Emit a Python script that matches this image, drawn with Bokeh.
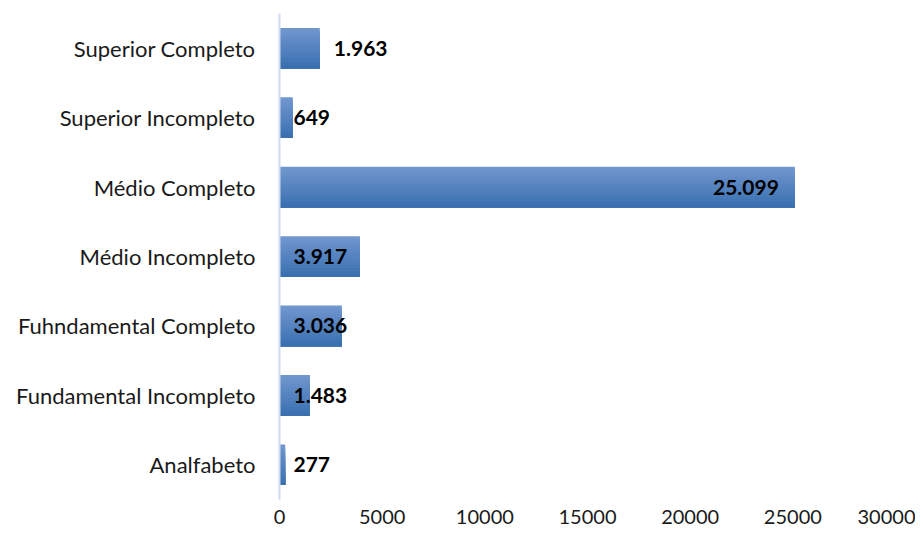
from bokeh.plotting import figure
from bokeh.models import Range1d, FactorRange, ColumnDataSource, FixedTicker
from bokeh.transform import dodge
from bokeh.core.properties import value
from bokeh.embed import file_html
from bokeh.resources import INLINE

categories = ["Analfabeto", "Fundamental Incompleto", "Fuhndamental Completo",
              "Médio Incompleto", "Médio Completo", "Superior Incompleto",
              "Superior Completo"]
counts = [277, 1483, 3036, 3917, 25099, 649, 1963]
value_labels = ["277", "1.483", "3.036", "3.917", "25.099", "649", "1.963"]
x_ticks = [0, 5000, 10000, 15000, 20000, 25000, 30000]

FONT = "Lato"

p = figure(width=915, height=529, y_range=FactorRange(*categories),
           x_range=Range1d(0, 30000), output_backend="svg", toolbar_location=None,
           min_border_left=279, min_border_right=20, min_border_top=13,
           min_border_bottom=30)
p.outline_line_color = None
p.grid.grid_line_color = None
p.background_fill_color = "white"

src = ColumnDataSource(dict(cat=categories, val=counts, lab=value_labels))

# gradient bars: cumulative strips from top (light) to bottom (dark)
bar_h = 0.585
n = 14
top_c = (112, 150, 206)
bot_c = (58, 112, 176)
for i in range(n):
    t = i / (n - 1)
    col = "#%02x%02x%02x" % tuple(int(round(a + (b - a) * t)) for a, b in zip(top_c, bot_c))
    top = bar_h / 2 - i * bar_h / n
    bottom = -bar_h / 2
    h = top - bottom
    center = (top + bottom) / 2
    p.hbar(y=dodge("cat", center, range=p.y_range), right="val", left=0, height=h,
           source=src, fill_color=col, line_color=None)

# label placement
base_idx = [i for i, c in enumerate(counts) if c < 5000 and c != 1963]
end_out_idx = [i for i, c in enumerate(counts) if c == 1963]
end_in_idx = [i for i, c in enumerate(counts) if c >= 5000]

def sub(idx):
    return ColumnDataSource(dict(cat=[categories[i] for i in idx],
                                 val=[counts[i] for i in idx],
                                 zero=[0] * len(idx),
                                 lab=[value_labels[i] for i in idx]))

common = dict(text_font=value(FONT), text_font_size="21px", text_font_style="bold",
              text_color="#000000", text_baseline="middle")
p.text(x="zero", y="cat", text="lab", source=sub(base_idx), x_offset=14,
       text_align="left", **common)
p.text(x="val", y="cat", text="lab", source=sub(end_out_idx), x_offset=14,
       text_align="left", **common)
p.text(x="val", y="cat", text="lab", source=sub(end_in_idx), x_offset=-16,
       text_align="right", **common)

xa = p.xaxis[0]
xa.ticker = FixedTicker(ticks=x_ticks)
xa.axis_line_color = None
xa.major_tick_line_color = None
xa.minor_tick_line_color = None
xa.major_label_text_font = FONT
xa.major_label_text_font_size = "20px"
xa.major_label_text_color = "#1a1a1a"
xa.major_label_standoff = 4

ya = p.yaxis[0]
ya.axis_line_color = "#cddcf0"
ya.axis_line_width = 2
ya.major_tick_line_color = None
ya.minor_tick_line_color = None
ya.major_label_text_font = FONT
ya.major_label_text_font_size = "22px"
ya.major_label_text_color = "#1a1a1a"
ya.major_label_standoff = 18

open("out.html", "w").write(file_html(p, INLINE))
